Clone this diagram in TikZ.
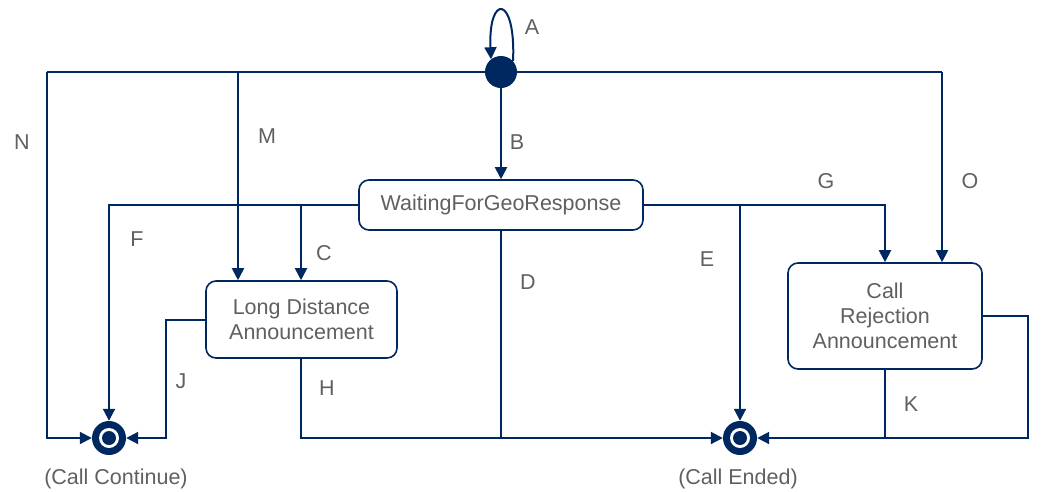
\documentclass[tikz,border=0pt]{standalone}
\usepackage{fontspec}
\setmainfont{Liberation Sans}
\usetikzlibrary{arrows.meta}
\definecolor{navy}{RGB}{0,40,96}
\definecolor{txt}{RGB}{96,96,96}
\begin{document}
\begin{tikzpicture}[x=1pt,y=-1pt,
  line/.style={draw=navy,line width=2pt},
  arr/.style={line,-{Triangle[length=12pt,width=12pt]}},
  state/.style={draw=navy,line width=1.6pt,rounded corners=10pt,fill=white,text=txt,font=\fontsize{21.5}{25}\selectfont,align=center,inner sep=0pt},
  lbl/.style={text=txt,font=\fontsize{21.5}{25}\selectfont},
  initst/.style={circle,fill=navy,minimum size=32pt,inner sep=0pt},
  finalst/.style={circle,fill=navy,minimum size=34pt,inner sep=0pt,path picture={
     \fill[white] (path picture bounding box.center) circle (10pt);
     \fill[navy] (path picture bounding box.center) circle (7pt);}}
]
\useasboundingbox (0,0) rectangle (1043,491);
% nodes
\node[initst] (init) at (501,72) {};
\node[state,minimum width=284pt,minimum height=50pt] (wait) at (501,205) {WaitingForGeoResponse};
\node[state,minimum width=191pt,minimum height=77pt] (lda) at (301.5,319.5) {Long Distance\\Announcement};
\node[state,minimum width=194pt,minimum height=106pt] (cra) at (885,316) {Call\\Rejection\\Announcement};
\node[finalst] (cc) at (109,438) {};
\node[finalst] (ce) at (740,438) {};
\node[lbl] (cct) at (116,479) {(Call Continue)};
\node[lbl] (cet) at (738,479) {(Call Ended)};
% coordinates
\coordinate (nL) at (47,72);
\coordinate (nB) at (47,438);
\coordinate (mT) at (238,72);
\coordinate (oT) at (942,72);
\coordinate (fC) at (109,205);
\coordinate (cC) at (301,205);
\coordinate (gC) at (885,205);
\coordinate (eC) at (740,205);
\coordinate (dB) at (501,438);
\coordinate (jL) at (166,320);
\coordinate (jB) at (166,438);
\coordinate (hB) at (301,438);
\coordinate (kB) at (885,438);
\coordinate (rR) at (1028,316);
\coordinate (rB) at (1028,438);
% A self loop
\draw[arr] (init.42) .. controls (516,-6) and (488,-6) .. (init.128);
% top line
\draw[line] (nL) -- (init.west);
\draw[line] (init.east) -- (oT);
% N
\draw[arr] (nL) -- (nB) -- (cc.west);
% M
\draw[arr] (mT) -- (mT|-lda.north);
% O
\draw[arr] (oT) -- (oT|-cra.north);
% B
\draw[arr] (init.south) -- (wait.north);
% F, C
\draw[arr] (wait.west) -- (fC) -- (cc.north);
\draw[arr] (cC) -- (cC|-lda.north);
% G, E
\draw[arr] (wait.east) -- (gC) -- (gC|-cra.north);
\draw[arr] (eC) -- (ce.north);
% D
\draw[line] (wait.south) -- (dB);
% J
\draw[arr] (jL-|lda.west) -- (jL) -- (jB) -- (cc.east);
% H
\draw[arr] (hB|-lda.south) -- (hB) -- (ce.west);
% K and right loop
\draw[line] (kB|-cra.south) -- (kB);
\draw[arr] (rR-|cra.east) -- (rR) -- (rB) -- (ce.east);
% labels
\node[lbl] (la) at (532,27) {A};
\node[lbl] (lb) at (517,142) {B};
\node[lbl] (lc) at (324,253) {C};
\node[lbl] (ld) at (528,282) {D};
\node[lbl] (le) at (707,259) {E};
\node[lbl] (lf) at (137,239) {F};
\node[lbl] (lg) at (826,181) {G};
\node[lbl] (lh) at (327,388) {H};
\node[lbl] (lj) at (181,381) {J};
\node[lbl] (lk) at (911,404) {K};
\node[lbl] (lm) at (267,136) {M};
\node[lbl] (ln) at (22,142) {N};
\node[lbl] (lo) at (970,181) {O};
\end{tikzpicture}
\end{document}
